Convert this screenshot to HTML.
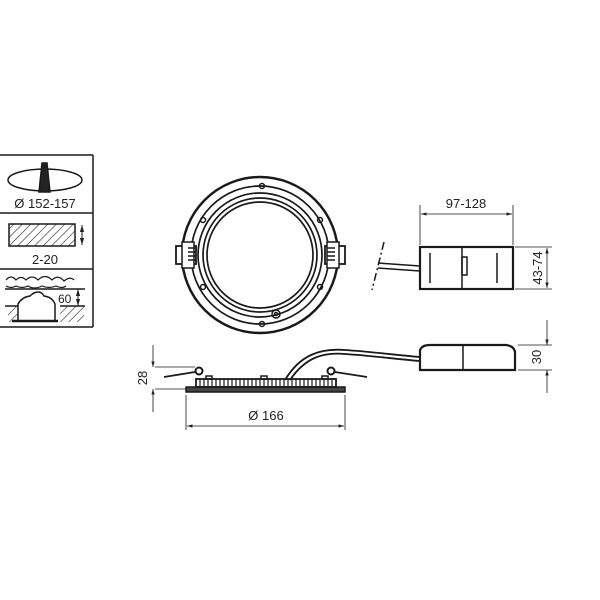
<!DOCTYPE html>
<html><head><style>body{margin:0;background:#fff}svg{display:block}text{font-family:"Liberation Sans",sans-serif;fill:#222}</style></head><body>
<svg width="600" height="600" viewBox="0 0 600 600" xmlns="http://www.w3.org/2000/svg">
<defs>
<pattern id="h" width="6" height="6" patternUnits="userSpaceOnUse" patternTransform="rotate(45)"><line x1="0" y1="0" x2="0" y2="6" stroke="#222" stroke-width="1.2"/></pattern>
<marker id="a" viewBox="0 0 10 10" refX="10" refY="5" markerWidth="7" markerHeight="7" orient="auto-start-reverse"><path d="M0,2 L10,5 L0,8z" fill="#222"/></marker>
</defs>
<g fill="none" stroke="#1a1a1a" stroke-width="1.5">
<!-- table -->
<line x1="0" y1="155" x2="93" y2="155"/><line x1="93" y1="155" x2="93" y2="327"/>
<line x1="0" y1="213" x2="93" y2="213"/><line x1="0" y1="269" x2="93" y2="269"/><line x1="0" y1="327" x2="93" y2="327"/>
<ellipse cx="45" cy="180" rx="37" ry="11"/>
<path d="M42,163 L47,163 L50,192 L39,192 Z" fill="#222"/>
<rect x="9" y="224" width="66" height="22" fill="url(#h)"/>
<line x1="82" y1="225" x2="82" y2="245" stroke-width="1" marker-start="url(#a)" marker-end="url(#a)"/>
<path d="M6,280 q5,-6 10,0 q5,-5 10,0 q6,-6 12,0 q7,-7 14,0 q6,-6 12,1 q6,-5 10,-1" stroke-width="1.2"/>
<path d="M6,286 q5,3 10,0 q6,3 12,0 q6,4 14,0 q7,3 14,0 q6,3 10,0" stroke-width="1.2"/>
<line x1="5" y1="289" x2="85" y2="289"/>
<line x1="5" y1="306" x2="18" y2="306"/><line x1="60" y1="306" x2="85" y2="306"/>
<rect x="8" y="306" width="10" height="16" fill="url(#h)" stroke="none"/>
<rect x="60" y="306" width="24" height="16" fill="url(#h)" stroke="none"/>
<path d="M18,320 L18,304 Q22,297 30,296 Q34,292 38,292 Q42,292 44,296 Q52,297 55,304 L55,320"/>
<line x1="12" y1="321" x2="58" y2="321" stroke-width="2.5"/>
<line x1="78" y1="289" x2="78" y2="306" stroke-width="1" marker-start="url(#a)" marker-end="url(#a)"/>
<!-- front view -->
<circle cx="260" cy="255" r="78" stroke-width="2.5"/>
<circle cx="260" cy="255" r="69" stroke-width="1.7"/>
<circle cx="260" cy="255" r="62" stroke-width="1.7"/>
<circle cx="260" cy="255" r="57" stroke-width="1.7"/>
<circle cx="260" cy="255" r="53" stroke-width="1.7"/>
<circle cx="262" cy="186" r="2.5"/><circle cx="262" cy="324" r="2.5"/>
<circle cx="203" cy="220" r="2.5"/><circle cx="320" cy="220" r="2.5"/>
<circle cx="203" cy="287" r="2.5"/><circle cx="320" cy="287" r="2.5"/>
<circle cx="276" cy="314" r="4"/><circle cx="276" cy="314" r="1.5"/>
<rect x="176" y="246" width="20" height="18" fill="#fff" stroke-width="1.8"/>
<rect x="182" y="242" width="12" height="26" fill="#fff"/>
<path d="M188,248 h8 M188,252 h8 M188,256 h8 M188,260 h8"/>
<rect x="325" y="246" width="20" height="18" fill="#fff" stroke-width="1.8"/>
<rect x="327" y="242" width="12" height="26" fill="#fff"/>
<path d="M327,248 h8 M327,252 h8 M327,256 h8 M327,260 h8"/>
<!-- top driver -->
<rect x="420" y="247" width="93" height="42" stroke-width="2.2"/>
<line x1="430" y1="253" x2="430" y2="283"/><line x1="497" y1="253" x2="497" y2="283"/>
<line x1="462" y1="247" x2="462" y2="289"/>
<rect x="462" y="257" width="5" height="18"/>
<path d="M378,263 L420,266 M378,268 L420,271"/>
<line x1="384" y1="242" x2="372" y2="290" stroke-dasharray="8,3,2,3"/>
<line x1="420" y1="205" x2="420" y2="245" stroke-width="0.8"/><line x1="513" y1="205" x2="513" y2="245" stroke-width="0.8"/>
<line x1="421" y1="214" x2="512" y2="214" stroke-width="0.8" marker-start="url(#a)" marker-end="url(#a)"/>
<line x1="515" y1="247" x2="552" y2="247" stroke-width="0.8"/><line x1="515" y1="289" x2="552" y2="289" stroke-width="0.8"/>
<line x1="547" y1="248" x2="547" y2="288" stroke-width="0.8" marker-start="url(#a)" marker-end="url(#a)"/>
<!-- side view -->
<rect x="186" y="387" width="159" height="5" fill="#444" stroke-width="1.5"/>
<rect x="196" y="379" width="140" height="8" stroke-width="1.8"/>
<rect x="206" y="376" width="6" height="3"/><rect x="261" y="376" width="6" height="3"/><rect x="322" y="376" width="6" height="3"/>
<path d="M200,379 v8 M204,379 v8 M208,379 v8 M212,379 v8 M216,379 v8 M220,379 v8 M224,379 v8 M228,379 v8 M232,379 v8 M236,379 v8 M240,379 v8 M244,379 v8 M248,379 v8 M252,379 v8 M256,379 v8 M260,379 v8 M264,379 v8 M268,379 v8 M272,379 v8 M276,379 v8 M280,379 v8 M284,379 v8 M288,379 v8 M292,379 v8 M296,379 v8 M300,379 v8 M304,379 v8 M308,379 v8 M312,379 v8 M316,379 v8 M320,379 v8 M324,379 v8 M328,379 v8 M332,379 v8" stroke-width="1.2"/>
<circle cx="199" cy="371" r="3.5" stroke-width="2"/><circle cx="331" cy="371" r="3.5" stroke-width="2"/>
<line x1="164" y1="377" x2="195" y2="372" stroke-width="1.8"/><line x1="335" y1="372" x2="367" y2="377" stroke-width="1.8"/>
<path d="M285,380 C300,355 320,348 345,350 C375,352 395,355 420,357" stroke-width="1.8"/>
<path d="M290,380 C305,358 322,352 345,354 C375,356 395,359 420,361" stroke-width="1.8"/>
<path d="M420,370 L420,350 Q422,345 430,345 L506,345 Q514,346 515,352 L515,370 Z" stroke-width="2.2"/>
<line x1="463" y1="345" x2="463" y2="370"/>
<line x1="155" y1="367" x2="195" y2="367" stroke-width="0.8"/><line x1="155" y1="389" x2="186" y2="389" stroke-width="0.8"/>
<line x1="153" y1="345" x2="153" y2="367" stroke-width="0.8" marker-end="url(#a)"/>
<line x1="153" y1="412" x2="153" y2="389" stroke-width="0.8" marker-end="url(#a)"/>
<line x1="186" y1="395" x2="186" y2="430" stroke-width="0.8"/><line x1="345" y1="395" x2="345" y2="430" stroke-width="0.8"/>
<line x1="187" y1="426" x2="344" y2="426" stroke-width="0.8" marker-start="url(#a)" marker-end="url(#a)"/>
<line x1="518" y1="345" x2="552" y2="345" stroke-width="0.8"/><line x1="518" y1="370" x2="552" y2="370" stroke-width="0.8"/>
<line x1="547" y1="320" x2="547" y2="345" stroke-width="0.8" marker-end="url(#a)"/>
<line x1="547" y1="393" x2="547" y2="370" stroke-width="0.8" marker-end="url(#a)"/>
</g>
<text x="45" y="208" font-size="13" text-anchor="middle">Ø 152-157</text>
<text x="45" y="264" font-size="13" text-anchor="middle">2-20</text>
<text x="58" y="303" font-size="12">60</text>
<text x="466" y="208" font-size="13" text-anchor="middle">97-128</text>
<text x="0" y="0" font-size="13" text-anchor="middle" transform="translate(542,268) rotate(-90)">43-74</text>
<text x="0" y="0" font-size="13" text-anchor="middle" transform="translate(147,378) rotate(-90)">28</text>
<text x="266" y="420" font-size="13" text-anchor="middle">Ø 166</text>
<text x="0" y="0" font-size="13" text-anchor="middle" transform="translate(541,357) rotate(-90)">30</text>
</svg>
</body></html>
